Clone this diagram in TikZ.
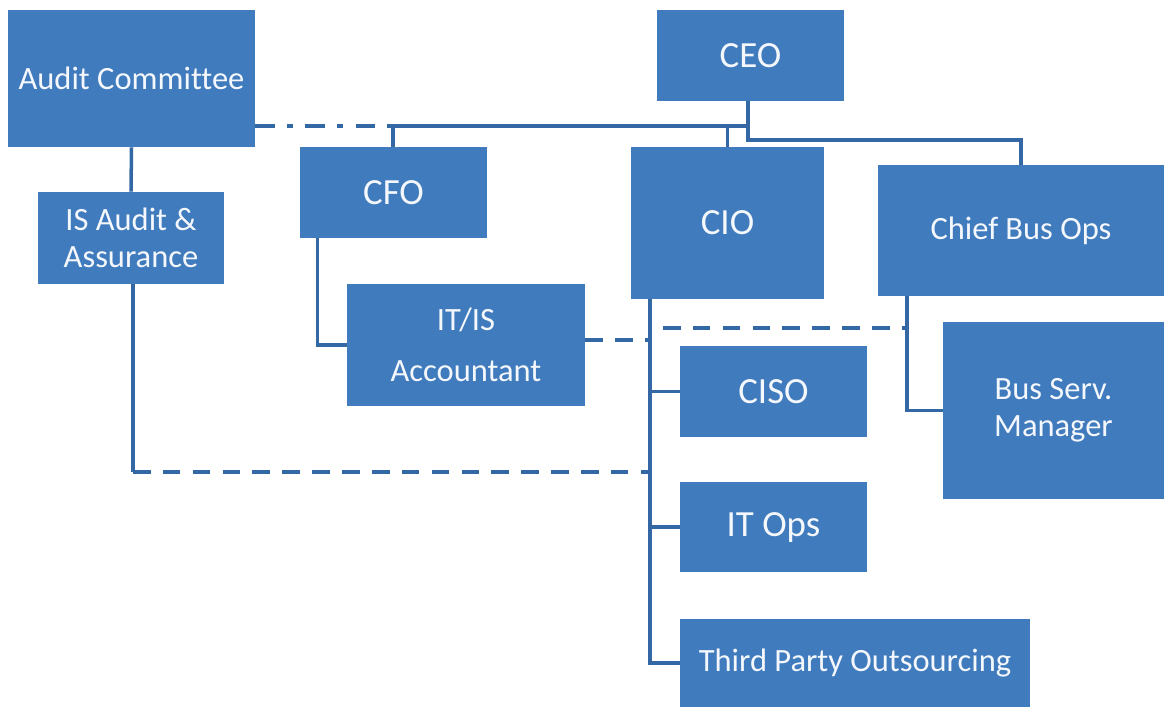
\documentclass[tikz,border=0pt]{standalone}
\usepackage{fontspec}
\setmainfont{Carlito}[Ligatures=NoCommon]
\definecolor{boxblue}{RGB}{64,123,189}
\definecolor{lineblue}{RGB}{52,104,164}
\begin{document}
\begin{tikzpicture}[x=0.02cm, y=-0.02cm,
    orgbox/.style 2 args = {rectangle, fill=boxblue, text=white!94!boxblue, align=center, inner sep=0pt,
        minimum width=#1*0.02cm, minimum height=#2*0.02cm, font=\fontsize{18.5}{21}\selectfont},
    bigtext/.style = {font=\fontsize{21}{24}\selectfont},
    link/.style = {draw=lineblue, line width=2pt},
    dotlink/.style = {link, dash pattern=on 10pt off 7pt},
    dashdotlink/.style = {link, dash pattern=on 11pt off 7pt on 3.5pt off 7pt}]
    \useasboundingbox (0,0) rectangle (1164,707);
    \node[orgbox={247}{137}] (audit) at (131.5,78.5) {Audit Committee};
    \node[orgbox={186}{92}] (isaudit) at (131,238) {IS Audit \&\\Assurance};
    \node[orgbox={187}{91}, bigtext] (ceo) at (750.5,55.5) {CEO};
    \node[orgbox={187}{91}, bigtext] (cfo) at (393.5,192.5) {CFO};
    \node[orgbox={193}{152}, bigtext] (cio) at (727.5,223) {CIO};
    \node[orgbox={286}{131}] (cbo) at (1021,230.5) {Chief Bus Ops};
    \node[orgbox={238}{122}] (acct) at (466,345) {IT/IS\\[8pt]Accountant};
    \node[orgbox={187}{91}, bigtext] (ciso) at (773.5,391.5) {CISO};
    \node[orgbox={187}{90}, bigtext] (itops) at (773.5,527) {IT Ops};
    \node[orgbox={350}{88}] (third) at (855,663) {Third Party Outsourcing};
    \node[orgbox={221}{177}] (bsm) at (1053.5,410.5) {Bus Serv.\\Manager};
    \coordinate (jl) at (393,126);
    \coordinate (jc) at (748,126);
    \coordinate (jb) at (748,140);
    \coordinate (cv) at (650,299);
    \coordinate (bv) at (907,296);
    \coordinate (ad) at (133,472);
    \coordinate (dk) at (650,328);
    \draw[link] (audit.south) -- (isaudit.north);
    \draw[dashdotlink] (audit.east |- jl) -- (jl);
    \draw[link] (ceo.south -| jb) -- (jb) -| (cbo.north);
    \draw[link] (jl) -- (jc);
    \draw[link] (jl) -- (jl |- cfo.north);
    \draw[link] (jc -| cio.north) -- (cio.north);
    \draw[link] (cfo.south west) ++(18,0) |- (acct.west);
    \draw[link] (cv) |- (third.west);
    \draw[link] (cv |- ciso.west) -- (ciso.west);
    \draw[link] (cv |- itops.west) -- (itops.west);
    \draw[link] (bv) |- (bsm.west);
    \draw[link] (isaudit.south -| ad) -- (ad);
    \draw[dotlink] (ad) -- (ad -| cv);
    \draw[dotlink] (acct.east) ++(0,-5) -| (dk) -- (dk -| bv);
\end{tikzpicture}
\end{document}
